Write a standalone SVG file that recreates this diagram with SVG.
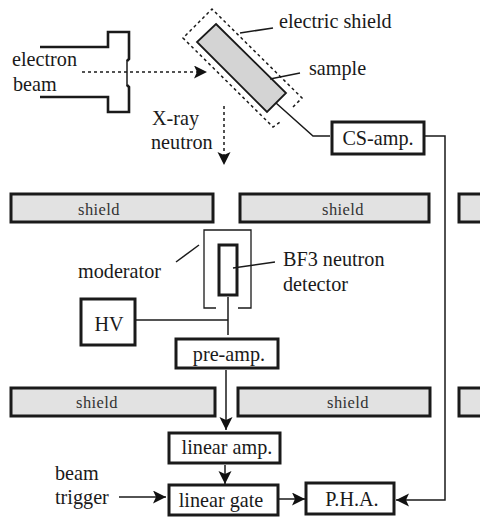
<svg xmlns="http://www.w3.org/2000/svg" width="480" height="519" viewBox="0 0 480 519">
<defs>
<marker id="ah" markerUnits="userSpaceOnUse" markerWidth="15" markerHeight="15" refX="13" refY="6.5" orient="auto"><path d="M0,0 L13,6.5 L0,13 L3,6.5 Z" fill="#111"/></marker>
</defs>
<style>
text{font-family:"Liberation Serif","Times New Roman",serif;fill:#1a1a1a;font-size:20.2px}
.s{font-size:16.5px;fill:#333;text-anchor:middle;letter-spacing:.4px}
.l{fill:none;stroke:#1a1a1a;stroke-width:1.5}
.b{fill:#fff;stroke:#1a1a1a;stroke-width:3}
.sh{fill:#e2e2e2;stroke:#1a1a1a;stroke-width:3}
.d{fill:none;stroke:#1a1a1a;stroke-width:1.5;stroke-dasharray:3 3}
.t{fill:none;stroke:#1a1a1a;stroke-width:2.6}
</style>
<g id="electron-gun"><path class="t" d="M40,47 H108 V32 H129 V59 L127,61"/><path class="t" d="M127,85 L129,87 V112 H108 V97 H40"/><path class="l" d="M127,60 V86"/></g>
<g id="electric-shield"><path class="d" d="M293,107 L302,98 L212,9 L183,38 L273,127 L280,122"/></g>
<g id="sample"><path d="M216,24 L286,93 L267,112 L197,42 Z" fill="#d4d4d4" stroke="#1a1a1a" stroke-width="1.8"/><text x="309" y="75">sample</text></g>
<text x="279" y="28">electric shield</text>
<text x="12" y="66">electron</text>
<text x="13" y="91">beam</text>
<text x="152" y="125">X-ray</text>
<text x="151" y="149">neutron</text>
<g id="cs-amp"><rect class="b" x="332" y="122" width="92" height="32"/><text x="378" y="145" text-anchor="middle">CS-amp.</text></g>
<g id="shield1"><rect class="sh" x="11" y="194" width="202" height="28"/><text class="s" x="99" y="215">shield</text></g>
<g id="shield2"><rect class="sh" x="240" y="194" width="189" height="28"/><text class="s" x="343" y="215">shield</text></g>
<g id="shield3"><path class="sh" d="M480,194 H459 V222 H480"/></g>
<g id="moderator"><path d="M216,308 H204 V230 H251 V308 H238" fill="none" stroke="#1a1a1a" stroke-width="1.3"/><text x="78" y="278">moderator</text></g>
<g id="detector"><rect class="b" x="219" y="245" width="18" height="50"/><text x="283" y="266">BF3 neutron</text><text x="283" y="291">detector</text></g>
<g id="hv"><rect class="b" x="81" y="299" width="54" height="46"/><text x="109" y="331" text-anchor="middle">HV</text></g>
<g id="pre-amp"><rect class="b" x="176" y="339" width="102" height="29"/><text x="229" y="361" text-anchor="middle">pre-amp.</text></g>
<g id="shield4"><rect class="sh" x="11" y="388" width="204" height="28"/><text class="s" x="97" y="408">shield</text></g>
<g id="shield5"><rect class="sh" x="238" y="388" width="192" height="28"/><text class="s" x="348" y="408">shield</text></g>
<g id="shield6"><path class="sh" d="M480,388 H459 V416 H480"/></g>
<g id="linear-amp"><rect class="b" x="169" y="433" width="111" height="30"/><text x="227" y="454" text-anchor="middle">linear amp.</text></g>
<g id="linear-gate"><rect class="b" x="169" y="485" width="109" height="30"/><text x="221" y="507" text-anchor="middle">linear gate</text></g>
<g id="pha"><rect class="b" x="306" y="483" width="88" height="31"/><text x="352" y="506" text-anchor="middle">P.H.A.</text></g>
<text x="55" y="480">beam</text>
<text x="55" y="504">trigger</text>
<g id="connectors">
<path class="l" d="M276,103 L313,136 H330"/>
<path class="l" d="M424,136 H445 V500 H396" marker-end="url(#ah)"/>
<path class="l" d="M240,33 L273,28"/>
<path class="l" d="M270,79 L300,73"/>
<path class="d" d="M82,72 H207" marker-end="url(#ah)"/>
<path class="d" d="M224,106 V165" marker-end="url(#ah)"/>
<path class="l" d="M176,262 L199,245"/>
<path class="l" d="M233,268 L275,262"/>
<path class="l" d="M228,297 V335"/>
<path class="l" d="M136,320 H228"/>
<path class="l" d="M226,370 V430" marker-end="url(#ah)"/>
<path class="l" d="M225,465 V484" marker-end="url(#ah)"/>
<path class="l" d="M119,497 H166" marker-end="url(#ah)"/>
<path class="l" d="M279,499 H305" marker-end="url(#ah)"/>
</g>
</svg>
